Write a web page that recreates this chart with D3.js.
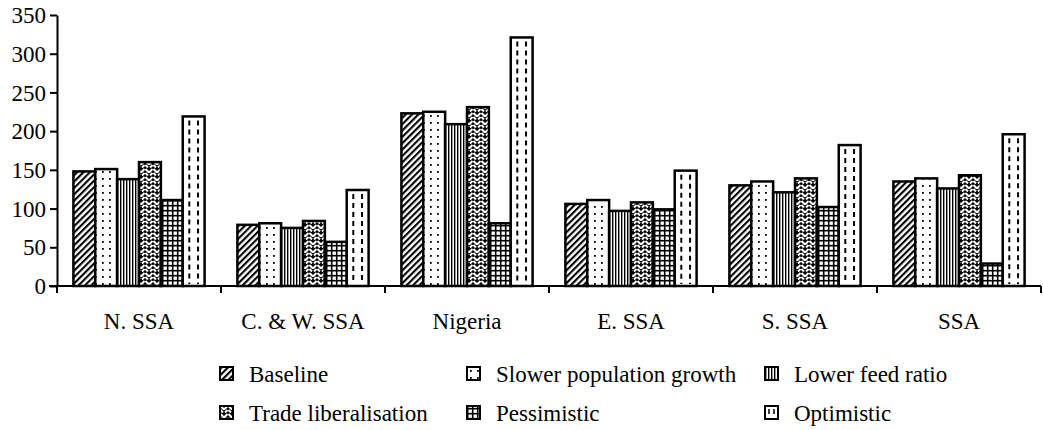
<!DOCTYPE html>
<html>
<head>
<meta charset="utf-8">
<script src="https://cdn.jsdelivr.net/npm/d3@7"></script>
<style>
    body { margin: 0; background: #fff; }
    svg { display: block; }
    svg text { font-family: "Liberation Serif", "Times New Roman", serif !important; fill: #000; }
    .axis path, .axis line { stroke: #000; stroke-width: 2px; }
    .bar { stroke: #000; stroke-width: 2.5px; }
</style>
</head>
<body>
<div id="chart"></div>
<script>
(function () {
    "use strict";

    var regions = ["N. SSA", "C. & W. SSA", "Nigeria", "E. SSA", "S. SSA", "SSA"],
        scenarios = ["Baseline", "Slower population growth", "Lower feed ratio",
            "Trade liberalisation", "Pessimistic", "Optimistic"],
        baseline = [148, 79, 223, 106, 130, 135],
        slower = [151, 81, 225, 111, 135, 139],
        lowerFeed = [138, 75, 209, 97, 121, 126],
        tradeLib = [160, 84, 231, 108, 139, 143],
        pessimistic = [111, 57, 81, 99, 102, 29],
        optimistic = [219, 124, 321, 149, 182, 196],
        yTicks = [0, 50, 100, 150, 200, 250, 300, 350],

        series = [baseline, slower, lowerFeed, tradeLib, pessimistic, optimistic],
        fills = ["url(#hatch)", "url(#dots)", "url(#vlines)", "url(#zigzag)", "url(#grid)", "#fff"],

        W = 1043, H = 430,
        x0 = d3.scaleBand().domain(regions).range([57, 1041]),
        x1 = d3.scaleBand().domain(scenarios)
            .range([x0.step() * 0.1, x0.step() * 0.9]),
        y = d3.scaleLinear().domain([0, 350]).range([286, 15]),

        svg = d3.select("#chart").append("svg")
            .attr("width", W)
            .attr("height", H),
        defs = svg.append("defs");

    // motifs noir et blanc
    var p = defs.append("pattern").attr("id", "hatch")
        .attr("patternUnits", "userSpaceOnUse").attr("width", 4.5).attr("height", 4.5)
        .attr("patternTransform", "rotate(45)");
    p.append("rect").attr("width", 4.5).attr("height", 4.5).attr("fill", "#fff");
    p.append("line").attr("x1", 1).attr("y1", 0).attr("x2", 1).attr("y2", 4.5)
        .attr("stroke", "#000").attr("stroke-width", 2.2);

    p = defs.append("pattern").attr("id", "dots")
        .attr("patternUnits", "userSpaceOnUse").attr("width", 7).attr("height", 7);
    p.append("rect").attr("width", 7).attr("height", 7).attr("fill", "#fff");
    p.append("rect").attr("x", 3).attr("y", 3).attr("width", 1.8).attr("height", 1.8).attr("fill", "#000");

    p = defs.append("pattern").attr("id", "vlines")
        .attr("patternUnits", "userSpaceOnUse").attr("width", 3).attr("height", 3);
    p.append("rect").attr("width", 3).attr("height", 3).attr("fill", "#fff");
    p.append("rect").attr("x", 0).attr("width", 1.4).attr("height", 3).attr("fill", "#000");

    // chevrons blancs sur fond noir (à peu près le motif en arêtes de poisson)
    p = defs.append("pattern").attr("id", "zigzag")
        .attr("patternUnits", "userSpaceOnUse").attr("width", 8).attr("height", 8);
    p.append("rect").attr("width", 8).attr("height", 8).attr("fill", "#000");
    p.append("path").attr("d", "M0.5,1 L4,4.5 M4,4.5 L7.5,1 M0.5,5 L3,7.5 M5,7.5 L7.5,5").attr("fill", "none")
        .attr("stroke", "#fff").attr("stroke-width", 2);

    p = defs.append("pattern").attr("id", "grid")
        .attr("patternUnits", "userSpaceOnUse").attr("width", 5).attr("height", 5);
    p.append("rect").attr("width", 5).attr("height", 5).attr("fill", "#000");
    p.append("rect").attr("x", 1.5).attr("y", 1.5).attr("width", 3.4).attr("height", 3.4).attr("fill", "#fff");

    // axes
    svg.append("g")
        .attr("class", "y axis")
        .attr("transform", "translate(57,0)")
        .call(d3.axisLeft(y).tickValues(yTicks).tickSize(7).tickSizeOuter(0).tickPadding(4))
        .call(function (g) {
            g.selectAll("text").style("font-size", "23px").attr("dy", "0.33em");
            g.append("line").attr("x1", 0).attr("x2", 0)
                .attr("y1", y(0)).attr("y2", y(0) + 7);
        });

    var xAxis = svg.append("g").attr("class", "x axis");
    xAxis.append("line")
        .attr("x1", x0.range()[0] - 8).attr("x2", x0.range()[1])
        .attr("y1", y(0)).attr("y2", y(0));
    xAxis.selectAll(".tick")
        .data(regions)
        .enter().append("line")
        .attr("x1", function (d) { return x0(d) + x0.step(); })
        .attr("x2", function (d) { return x0(d) + x0.step(); })
        .attr("y1", y(0)).attr("y2", y(0) + 7);
    xAxis.selectAll(".lab")
        .data(regions)
        .enter().append("text")
        .attr("x", function (d) { return x0(d) + x0.bandwidth() / 2; })
        .attr("y", 329)
        .attr("text-anchor", "middle")
        .style("font-size", "23px")
        .text(function (d) { return d; });

    // barres
    var groups = svg.append("g").selectAll("g")
        .data(regions)
        .enter().append("g")
        .attr("transform", function (d) { return "translate(" + x0(d) + ",0)"; });

    groups.selectAll("rect")
        .data(function (d, i) {
            return scenarios.map(function (s, j) { return {s: s, j: j, v: series[j][i]}; });
        })
        .enter().append("rect")
        .attr("class", "bar")
        .attr("x", function (d) { return x1(d.s); })
        .attr("y", function (d) { return y(d.v); })
        .attr("width", x1.bandwidth())
        .attr("height", function (d) { return y(0) - y(d.v); })
        .attr("fill", function (d) { return fills[d.j]; });

    // tirets de "Optimistic"
    groups.each(function (d, i) {
        var g = d3.select(this),
            bx = x1("Optimistic"),
            bw = x1.bandwidth();
        [0.3, 0.7].forEach(function (f) {
            g.append("line")
                .attr("x1", bx + bw * f).attr("x2", bx + bw * f)
                .attr("y1", y(optimistic[i]) + 4).attr("y2", y(0) - 2)
                .attr("stroke", "#000").attr("stroke-width", 2)
                .attr("stroke-dasharray", "5,4");
        });
    });

    // légende
    var legX = [220, 467, 765],
        legY = [374, 413],
        leg = svg.append("g").selectAll("g")
            .data(scenarios)
            .enter().append("g")
            .attr("transform", function (d, i) {
                return "translate(" + legX[i % 3] + "," + legY[Math.floor(i / 3)] + ")";
            });
    leg.append("rect")
        .attr("x", 0).attr("y", -7)
        .attr("width", 13).attr("height", 13)
        .attr("fill", function (d, i) { return fills[i]; })
        .attr("stroke", "#000").attr("stroke-width", 2);
    leg.filter(function (d) { return d === "Optimistic"; })
        .append("path")
        .attr("d", "M4,-4 V1 M9,-4 V1")
        .attr("stroke", "#000").attr("stroke-width", 1.5);
    leg.append("text")
        .attr("x", 29)
        .attr("y", 0)
        .attr("dy", "0.33em")
        .style("font-size", "23px")
        .text(function (d) { return d; });
}());
</script>
</body>
</html>
